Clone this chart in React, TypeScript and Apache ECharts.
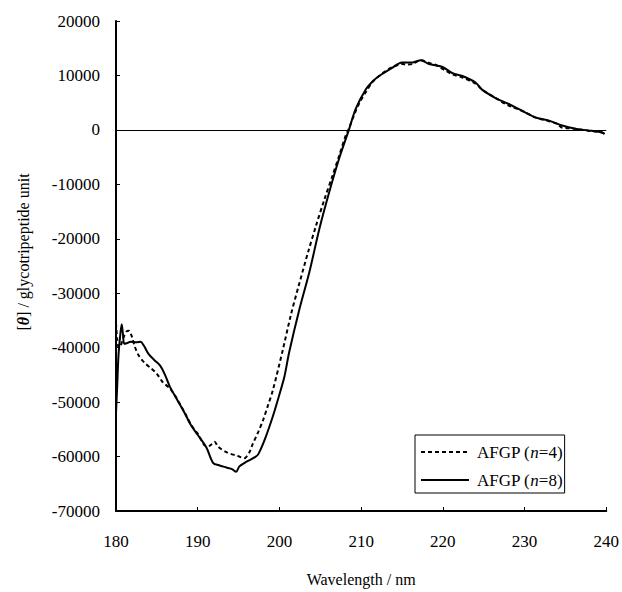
import React, { useEffect, useRef } from "react";
import * as echarts from "echarts";

const xTicks = { min: 180, max: 240, interval: 10 };
const yTicks = { min: -70000, max: 20000, interval: 10000 };

const seriesNames = ["AFGP (n=4)", "AFGP (n=8)"];

const afgp4: [number, number][] = [
  [180.0, -35500], [180.15, -38500], [180.35, -40000], [180.6, -39500], [180.9, -38200],
  [181.3, -37000], [181.6, -36900], [181.9, -37800], [182.3, -39800], [182.8, -41500],
  [183.5, -42800], [184.3, -43800], [185.0, -44800], [185.7, -46300], [186.6, -47500],
  [187.5, -49500], [188.5, -52200], [189.2, -54200], [190.0, -55800], [191.05, -58100],
  [191.5, -58000], [192.06, -57300], [192.5, -58200], [193.5, -59200], [194.9, -59900],
  [195.7, -60300], [196.3, -59300], [196.7, -57800], [197.4, -55500], [198.0, -53300],
  [198.6, -50600], [199.2, -47800], [200.4, -40500], [201.4, -34000], [202.4, -28400],
  [203.5, -22500], [204.5, -17500], [205.5, -12800], [206.5, -8400], [207.3, -4800],
  [208.1, -1100], [208.5, 200], [209.1, 2600], [209.8, 5000], [210.6, 7000],
  [211.4, 8800], [212.2, 9900], [213.0, 10800], [213.8, 11500], [215.0, 12100],
  [215.6, 12000], [216.3, 12100], [217.3, 12800], [218.3, 12300], [219.2, 11900],
  [220.2, 11000], [221.2, 10200], [222.4, 9600], [224.0, 8500], [224.8, 7400],
  [226.4, 5900], [228.0, 4500], [229.7, 3500], [231.3, 2300], [233.0, 1600],
  [234.0, 1100], [234.6, 400], [235.5, 300], [236.2, 200], [237.8, -150],
  [239.4, -450], [239.8, -750],
];

const afgp8: [number, number][] = [
  [180.0, -52000], [180.15, -47000], [180.3, -41500], [180.5, -38000], [180.7, -35700],
  [180.85, -37500], [181.0, -39300], [181.3, -39200], [181.8, -38900], [182.5, -39000],
  [183.0, -38900], [183.4, -39600], [184.0, -41200], [184.7, -42300], [185.4, -43300],
  [186.0, -45000], [186.6, -47200], [187.5, -49600], [188.4, -52000], [189.2, -54300],
  [190.0, -56000], [191.05, -58300], [191.9, -61200], [192.6, -61600], [193.5, -62000],
  [194.2, -62300], [194.7, -62800], [195.1, -61800], [195.8, -61100], [196.3, -60700],
  [197.0, -60100], [197.4, -59600], [198.2, -56900], [199.2, -52600], [200.0, -48600],
  [200.6, -45400], [201.2, -40800], [202.4, -33200], [203.7, -25900], [204.9, -18100],
  [206.1, -11400], [207.3, -5300], [208.5, 0], [209.35, 3900], [210.6, 7500],
  [211.4, 8900], [212.2, 9900], [213.8, 11400], [215.0, 12400], [216.3, 12400],
  [217.3, 12800], [218.3, 12100], [219.9, 11600], [221.2, 10400], [222.4, 9900],
  [224.0, 8700], [224.8, 7400], [226.4, 5900], [228.0, 4800], [229.7, 3500],
  [231.3, 2300], [233.0, 1700], [234.6, 800], [236.2, 200], [237.8, -100],
  [239.4, -450], [239.8, -750],
];

const FONT = "'Liberation Serif', 'Times New Roman', 'DejaVu Serif', serif";

export default function App() {
  const ref = useRef<HTMLDivElement>(null);
  useEffect(() => {
    if (!ref.current) return;
    const chart = echarts.init(ref.current, undefined, { renderer: "svg", width: 622, height: 592 });
    chart.setOption({
      animation: false,
      backgroundColor: "#fff",
      textStyle: { fontFamily: FONT, color: "#000" },
      grid: { left: 116, width: 492, top: 21, height: 494, containLabel: false },
      legend: {
        orient: "vertical",
        left: 415,
        top: 435,
        data: seriesNames,
        backgroundColor: "#fff",
        borderColor: "#000",
        borderWidth: 1,
        borderRadius: 0,
        padding: [7, 2, 3, 5],
        itemGap: 8,
        itemWidth: 48,
        itemHeight: 14,
        itemStyle: { opacity: 0, color: "transparent", borderWidth: 0 },
        formatter: (name: string) => name.replace("n=", "{i|n}="),
        textStyle: {
          fontFamily: FONT,
          fontSize: 17,
          color: "#000",
          lineHeight: 20,
          padding: [0, 0, 0, 3],
          rich: {
            i: { fontFamily: FONT, fontSize: 17, fontStyle: "italic", color: "#000", lineHeight: 20 },
          },
        },
      },
      xAxis: {
        type: "value",
        min: xTicks.min,
        max: xTicks.max,
        interval: xTicks.interval,
        name: "Wavelength / nm",
        nameLocation: "middle",
        nameGap: 60,
        nameTextStyle: { fontFamily: FONT, fontSize: 16, color: "#000" },
        axisLine: { onZero: false, lineStyle: { color: "#000", width: 2 } },
        axisTick: { inside: true, length: 4, lineStyle: { color: "#000", width: 1 } },
        axisLabel: {
          fontFamily: FONT,
          fontSize: 17,
          color: "#000",
          margin: 22,
          formatter: (v: number) => String(v),
        },
        splitLine: { show: false },
      },
      yAxis: {
        type: "value",
        min: yTicks.min,
        max: yTicks.max,
        interval: yTicks.interval,
        name: "[{t|θ}] / glycotripeptide unit",
        nameLocation: "middle",
        nameGap: 85,
        nameTextStyle: {
          fontFamily: FONT,
          fontSize: 16,
          color: "#000",
          padding: [0, 0, 0, 28],
          rich: {
            t: { fontFamily: FONT, fontSize: 16, fontWeight: "bold", fontStyle: "italic", color: "#000" },
          },
        },
        axisLine: { onZero: false, lineStyle: { color: "#000", width: 2 } },
        axisTick: { inside: true, length: 4, lineStyle: { color: "#000", width: 1 } },
        axisLabel: {
          fontFamily: FONT,
          fontSize: 17,
          color: "#000",
          margin: 16,
          formatter: (v: number) => String(v),
        },
        splitLine: { show: false },
      },
      series: [
        {
          name: seriesNames[0],
          type: "line",
          data: afgp4,
          showSymbol: false,
          symbol: "none",
          smooth: 0.3,
          lineStyle: { color: "#000", width: 2, type: [4, 3] },
          itemStyle: { color: "#000" },
          z: 3,
          markLine: {
            silent: true,
            symbol: "none",
            label: { show: false },
            lineStyle: { color: "#000", width: 1, type: "solid" },
            data: [{ yAxis: 0 }],
          },
        },
        {
          name: seriesNames[1],
          type: "line",
          data: afgp8,
          showSymbol: false,
          symbol: "none",
          smooth: 0.3,
          lineStyle: { color: "#000", width: 2, type: "solid" },
          itemStyle: { color: "#000" },
          z: 4,
        },
      ],
    });
    return () => chart.dispose();
  }, []);
  return (
    <div
      ref={ref}
      style={{ position: "fixed", left: 0, top: 0, width: 622, height: 592, background: "#fff" }}
    />
  );
}
